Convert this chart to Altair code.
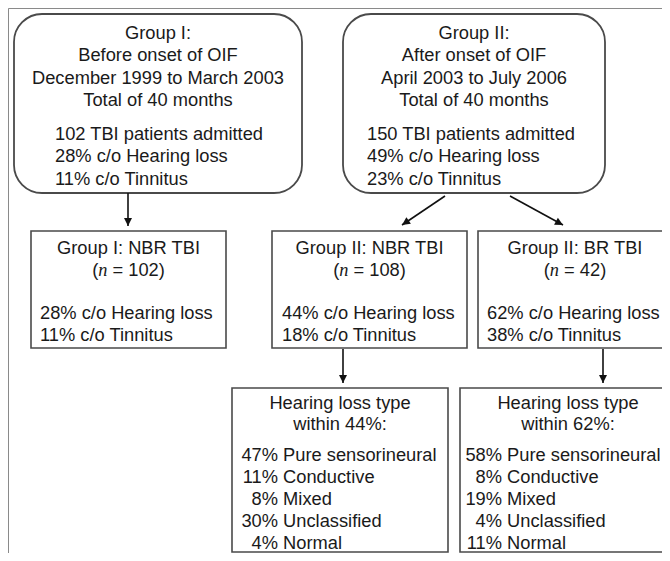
import math
import altair as alt
import pandas as pd

# ---------------- data ----------------
periods = ["Group I:", "Group II:"]
onset = ["Before onset of OIF", "After onset of OIF"]
spans = ["December 1999 to March 2003", "April 2003 to July 2006"]
months = [40, 40]
admitted = [102, 150]
hearing_pct = [28, 49]
tinnitus_pct = [11, 23]

subgroups = ["Group I: NBR TBI", "Group II: NBR TBI", "Group II: BR TBI"]
sub_n = [102, 108, 42]
sub_hearing = [28, 44, 62]
sub_tinnitus = [11, 18, 38]

loss_types = ["Pure sensorineural", "Conductive", "Mixed", "Unclassified", "Normal"]
loss_within = [44, 62]
loss_nbr = [47, 11, 8, 30, 4]
loss_br = [58, 8, 19, 4, 11]
loss_values = [loss_nbr, loss_br]

# ---------------- layout (page pixels) ----------------
top_boxes = [(14, 302, 14, 193), (343, 605, 14, 193)]
top_left = [55, 367]
top_title_y = [32, 54.5, 77, 99.5]
top_stat_y = [133, 155.5, 178]

mid_boxes = [(31, 226, 231, 348), (272, 467, 231, 348), (478, 672, 231, 348)]
mid_left = [40, 282, 487]
mid_title_y = 247
mid_n_y = 269
mid_stat_y = [312, 334]

low_boxes = [(232, 448, 388, 552), (460, 680, 388, 552)]
low_title_center = [340, 568]
low_pct_end = [278, 502]
low_title_y = [402, 423]
low_row_y = [454, 476, 498, 520, 542]

arrows = [
    (128, 193, 128, 226),
    (445, 196, 402, 225),
    (510, 196, 563, 225),
    (343, 349, 343, 383),
    (603, 349, 603, 383),
]

FS = 18.3
FONT = "Liberation Sans"
TXT = "#1a1a1a"
BOX = "#4a4a4a"
DY = 1.5

X = alt.Scale(domain=[8, 662], nice=False, zero=False)
Y = alt.Scale(domain=[8, 553], nice=False, zero=False, reverse=True)


def xe(f):
    return alt.X(f, type="quantitative", scale=X, axis=None)


def ye(f):
    return alt.Y(f, type="quantitative", scale=Y, axis=None)


# ---------------- frame ----------------
frame = pd.DataFrame({"x": [8.5, 8.5], "x2": [662, 8.5], "y": [8.5, 8.5], "y2": [8.5, 553]})
frame_layer = alt.Chart(frame).mark_rule(color="#8a8a8a", strokeWidth=1).encode(
    x=xe("x"), x2=alt.X2("x2"), y=ye("y"), y2=alt.Y2("y2"))


# ---------------- boxes ----------------
def box_df(boxes):
    return pd.DataFrame({"x": [b[0] for b in boxes], "x2": [b[1] for b in boxes],
                         "y": [b[2] for b in boxes], "y2": [b[3] for b in boxes]})


rounded = alt.Chart(box_df(top_boxes)).mark_rect(
    cornerRadius=28, fill="white", stroke=BOX, strokeWidth=1.8).encode(
    x=xe("x"), x2=alt.X2("x2"), y=ye("y"), y2=alt.Y2("y2"))
square = alt.Chart(box_df(mid_boxes + low_boxes)).mark_rect(
    fill="white", stroke=BOX, strokeWidth=1.6).encode(
    x=xe("x"), x2=alt.X2("x2"), y=ye("y"), y2=alt.Y2("y2"))

# ---------------- arrows ----------------
arr = pd.DataFrame({"x": [a[0] for a in arrows], "y": [a[1] for a in arrows],
                    "x2": [a[2] for a in arrows], "y2": [a[3] for a in arrows]})
arr["angle"] = [(math.degrees(math.atan2(-(a[2] - a[0]), a[3] - a[1])) + 360) % 360 for a in arrows]
arrow_lines = alt.Chart(arr).mark_rule(color="#111", strokeWidth=1.6).encode(
    x=xe("x"), y=ye("y"), x2=alt.X2("x2"), y2=alt.Y2("y2"))
arrow_heads = alt.Chart(arr).mark_point(
    shape="M0,0 L-0.5,-1 L0.5,-1 Z", filled=True, color="#111", size=256, opacity=1).encode(
    x=xe("x2"), y=ye("y2"), angle=alt.Angle("angle:Q", scale=None))

# ---------------- texts ----------------
center_rows, left_rows, right_rows, ital_rows = [], [], [], []

for i, b in enumerate(top_boxes):
    cx = (b[0] + b[1]) / 2
    titles = [periods[i], onset[i], spans[i], f"Total of {months[i]} months"]
    for t, yy in zip(titles, top_title_y):
        center_rows.append((cx, yy, t))
    stats = [f"{admitted[i]} TBI patients admitted", f"{hearing_pct[i]}% c/o Hearing loss",
             f"{tinnitus_pct[i]}% c/o Tinnitus"]
    for t, yy in zip(stats, top_stat_y):
        left_rows.append((top_left[i], yy, t))

w_paren = 0.333 * FS
w_n = 0.5 * FS
w_space = 0.278 * FS
for i, b in enumerate(mid_boxes):
    cx = (b[0] + b[1]) / 2
    center_rows.append((cx, mid_title_y, subgroups[i]))
    rest = f"= {sub_n[i]})"
    w_rest = (2 * 0.278 + 0.584 + 0.556 * len(str(sub_n[i])) + 0.333) * FS
    total = w_paren + w_n + w_rest
    x0 = cx - total / 2
    left_rows.append((x0, mid_n_y, "("))
    ital_rows.append((x0 + w_paren, mid_n_y, "n"))
    left_rows.append((x0 + w_paren + w_n + w_space, mid_n_y, rest))
    stats = [f"{sub_hearing[i]}% c/o Hearing loss", f"{sub_tinnitus[i]}% c/o Tinnitus"]
    for t, yy in zip(stats, mid_stat_y):
        left_rows.append((mid_left[i], yy, t))

for i, b in enumerate(low_boxes):
    cx = low_title_center[i]
    center_rows.append((cx, low_title_y[0], "Hearing loss type"))
    center_rows.append((cx, low_title_y[1], f"within {loss_within[i]}%:"))
    for v, lab, yy in zip(loss_values[i], loss_types, low_row_y):
        right_rows.append((low_pct_end[i], yy, f"{v}%"))
        left_rows.append((low_pct_end[i] + w_space, yy, lab))


def tdf(rows):
    return pd.DataFrame({"x": [r[0] for r in rows], "y": [r[1] + DY for r in rows],
                         "t": [r[2] for r in rows]})


def text_layer(rows, align, font=FONT, style="normal"):
    return alt.Chart(tdf(rows)).mark_text(
        align=align, baseline="middle", font=font, fontSize=FS, fontStyle=style, color=TXT).encode(
        x=xe("x"), y=ye("y"), text="t:N")


chart = alt.layer(
    frame_layer, rounded, square, arrow_lines, arrow_heads,
    text_layer(center_rows, "center"),
    text_layer(left_rows, "left"),
    text_layer(right_rows, "right"),
    text_layer(ital_rows, "left", font="Liberation Serif", style="italic"),
).properties(
    width=654, height=545, padding=0, autosize=alt.AutoSizeParams(type="none")
).configure_view(stroke=None).configure(background="white")

chart.save("out.html", embed_options={"renderer": "svg", "actions": False})
